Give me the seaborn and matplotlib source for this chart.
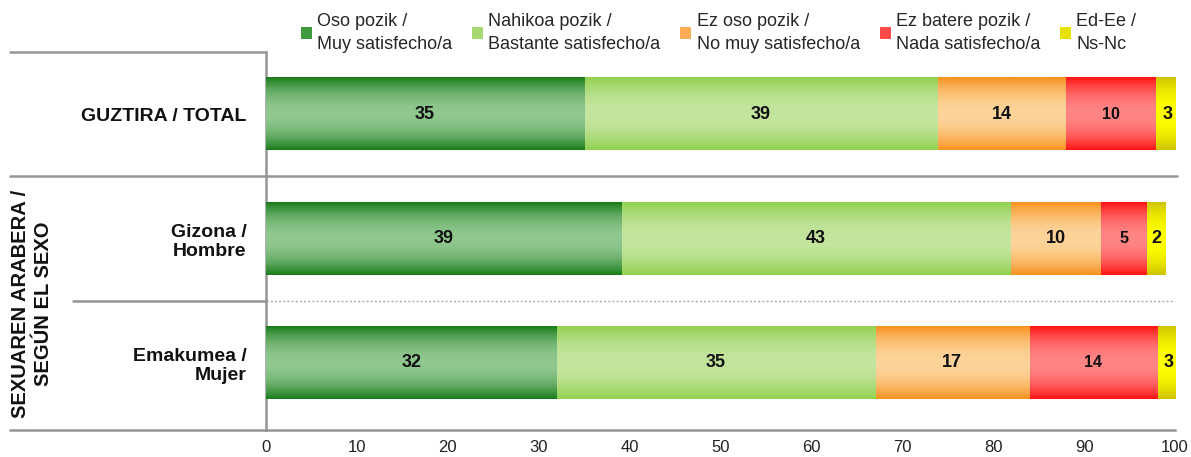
import numpy as np
import pandas as pd
import matplotlib
matplotlib.use("Agg")
import matplotlib.pyplot as plt
import matplotlib.transforms as mtransforms
from matplotlib.colors import to_rgb
from matplotlib.lines import Line2D
from matplotlib.patches import Patch
import seaborn as sns

# data
groups = ["GUZTIRA / TOTAL", "Gizona /\nHombre", "Emakumea /\nMujer"]
categories = ["Oso pozik /\nMuy satisfecho/a",
              "Nahikoa pozik /\nBastante satisfecho/a",
              "Ez oso pozik /\nNo muy satisfecho/a",
              "Ez batere pozik /\nNada satisfecho/a",
              "Ed-Ee /\nNs-Nc"]
oso_pozik = [35.0, 39.1, 32.0]
nahikoa_pozik = [38.9, 42.8, 35.0]
ez_oso_pozik = [14.0, 10.0, 17.0]
ez_batere_pozik = [10.0, 5.0, 14.0]
ed_ee = [2.6, 2.0, 2.6]
series = [oso_pozik, nahikoa_pozik, ez_oso_pozik, ez_batere_pozik, ed_ee]
x_ticks = list(range(0, 101, 10))

# gradient colours (edge of bar -> middle of bar)
edge_colors = ["#1b7d1b", "#92d050", "#f7931e", "#ff1515", "#cfc400"]
center_colors = ["#90c890", "#c4e59f", "#fdd49a", "#ff8585", "#ffff00"]
swatch_colors = ["#3f9a3f", "#a6da70", "#fbad55", "#ff4a4a", "#e8e200"]
label_sizes = [13, 13, 13, 11.5, 13]

line_gray = "#959595"

sns.set_style("white")
plt.rcParams["font.family"] = ["Liberation Sans", "DejaVu Sans"]

# long table with cumulative ends for the stacked bars
rows = []
for g_i, g in enumerate(groups):
    cum = 0.0
    for c_i, c in enumerate(categories):
        cum += series[c_i][g_i]
        rows.append({"group": g, "category": c, "value": series[c_i][g_i], "cum": cum})
df = pd.DataFrame(rows)

fig = plt.figure(figsize=(11.91, 4.57), dpi=100)
ax = fig.add_axes([266 / 1191, 27 / 457, 909 / 1191, 378 / 457])

bar_w = 0.58
sns.barplot(data=df, x="cum", y="group", hue="category", order=groups,
            hue_order=categories[::-1], dodge=False, width=bar_w,
            palette=dict(zip(categories, edge_colors)), legend=False,
            edgecolor="none", ax=ax)


def gradient(edge, center, n=64):
    e = np.array(to_rgb(edge))
    c = np.array(to_rgb(center))
    t = np.abs(np.linspace(-1, 1, n)) ** 2
    return (c[None, :] + (e - c)[None, :] * t[:, None])[:, None, :]


# overlay each visible segment with a vertical gradient
for k, container in enumerate(ax.containers):
    c_i = len(categories) - 1 - k
    for g_i, patch in enumerate(container.patches):
        right = patch.get_x() + patch.get_width()
        left = right - series[c_i][g_i]
        y0 = patch.get_y()
        y1 = y0 + patch.get_height()
        ax.imshow(gradient(edge_colors[c_i], center_colors[c_i]),
                  extent=[left, right, y1, y0], aspect="auto",
                  interpolation="bilinear", zorder=3)
        ax.text((left + right) / 2, (y0 + y1) / 2, f"{series[c_i][g_i]:.0f}",
                ha="center", va="center", fontsize=label_sizes[c_i],
                fontweight="bold", color="#111111", zorder=4)

ax.set_xlim(0, 100)
ax.set_ylim(2.54, -0.5)
ax.set_xticks(x_ticks)
ax.set_xlabel("")
ax.set_ylabel("")
ax.tick_params(axis="x", length=5, width=1.5, color=line_gray, labelsize=12,
               labelcolor="#222222", pad=2)
ax.tick_params(axis="y", length=0, pad=14, labelsize=14)
for lab in ax.get_yticklabels():
    lab.set_fontweight("bold")
    lab.set_color("#111111")
sns.despine(ax=ax, top=True, right=True)
for side in ["left", "bottom"]:
    ax.spines[side].set_color(line_gray)
    ax.spines[side].set_linewidth(1.8)

# table-like separators
trans = mtransforms.blended_transform_factory(fig.transFigure, ax.transData)
x_left = 10 / 1191
x_axl = 266 / 1191
x_axr = 1177 / 1191
for y, xa, xb in [(-0.5, x_left, x_axl), (0.5, x_left, x_axr),
                  (1.5, 73 / 1191, x_axl), (2.54, x_left, x_axl)]:
    ax.add_line(Line2D([xa, xb], [y, y], transform=trans, color=line_gray,
                       lw=1.8, clip_on=False, zorder=5))
ax.axhline(1.5, color="#aaaaaa", lw=1.0, ls=(0, (1.5, 1.5)), zorder=1)

fig.text(32 / 1191, 1 - 304 / 457, "SEXUAREN ARABERA /\nSEGÚN EL SEXO",
         rotation=90, ha="center", va="center", ma="center", linespacing=1.25,
         fontsize=14.5, fontweight="bold", color="#111111")

handles = [Patch(facecolor=col, edgecolor="none") for col in swatch_colors]
leg = fig.legend(handles, categories, loc="upper left", ncol=5,
                 bbox_to_anchor=(290 / 1191, 0.995), frameon=False, fontsize=13,
                 handlelength=0.6, handleheight=0.6, handletextpad=0.3,
                 columnspacing=1.1, borderaxespad=0.2)
for t in leg.get_texts():
    t.set_linespacing(1.45)

fig.savefig("out.png", dpi=100)
